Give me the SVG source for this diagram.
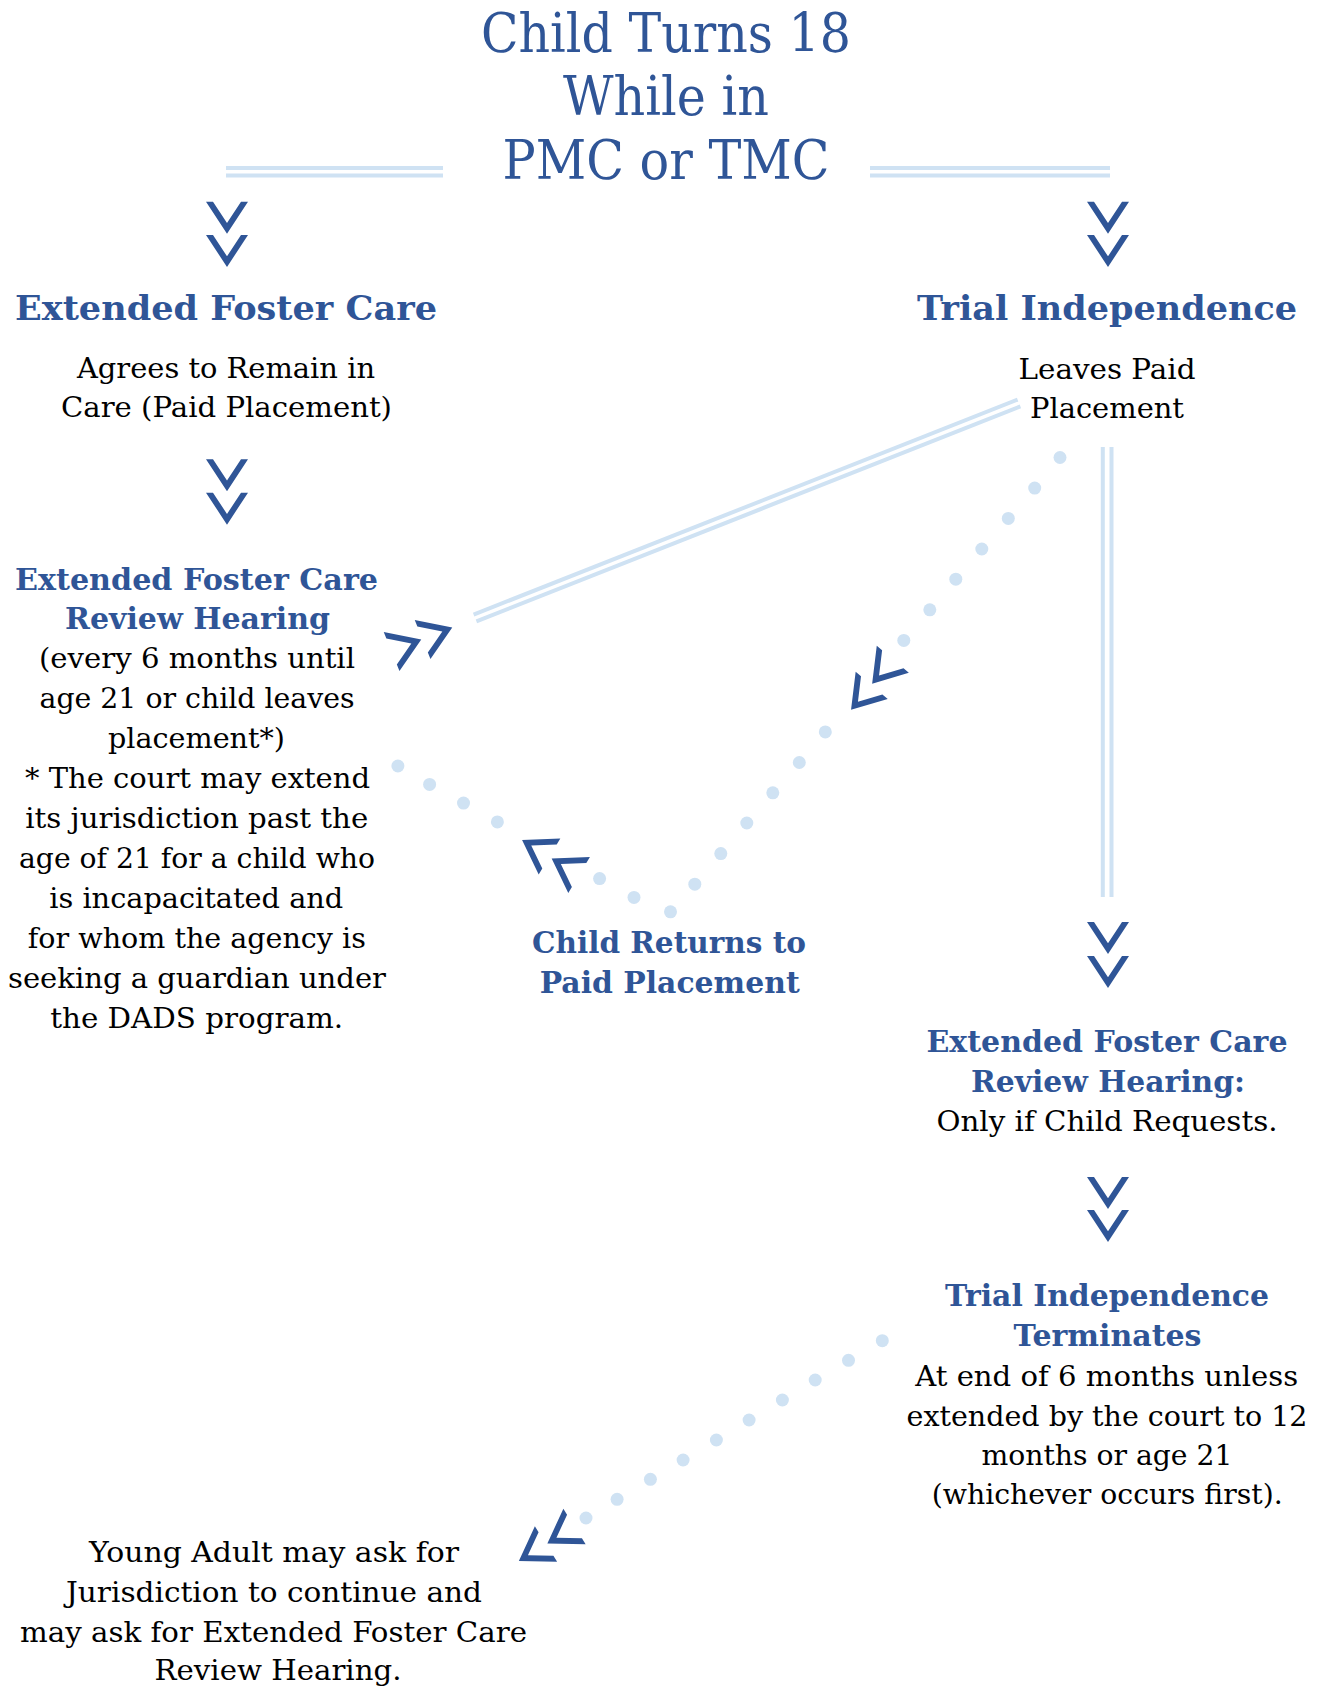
<svg xmlns="http://www.w3.org/2000/svg" xmlns:xlink="http://www.w3.org/1999/xlink" width="1322" height="1688" viewBox="0 0 1322 1688">
<style>
  text { font-family: "DejaVu Serif", "Liberation Serif", serif; text-anchor: middle; }
  .title { fill: #2F5597; font-size: 55px; }
  .h1 { fill: #2F5597; font-size: 34px; font-weight: bold; }
  .h2 { fill: #2F5597; font-size: 30px; font-weight: bold; }
  .b { fill: #000000; font-size: 28px; }
  .rail { stroke: #CFE2F3; stroke-width: 4; fill: none; }
  .dot { fill: #CFE2F3; }
  .chev { fill: #2F5597; }
</style>
<defs>
  <polygon id="chev" points="-21,0 0,32 21,0 14,0 0,21.3 -14,0"/>
</defs>
<rect x="0" y="0" width="1322" height="1688" fill="#FFFFFF"/>

<g id="connectors">
  <!-- horizontal double rails from title -->
  <line class="rail" x1="226" y1="168" x2="443" y2="168"/>
  <line class="rail" x1="226" y1="175.5" x2="443" y2="175.5"/>
  <line class="rail" x1="870" y1="168" x2="1110" y2="168"/>
  <line class="rail" x1="870" y1="175.5" x2="1110" y2="175.5"/>
  <!-- vertical double rail on the right -->
  <line class="rail" x1="1102.8" y1="447" x2="1102.8" y2="897"/>
  <line class="rail" x1="1111.5" y1="447" x2="1111.5" y2="897"/>
  <!-- diagonal double rail -->
  <line class="rail" x1="473.6" y1="614.6" x2="1017.6" y2="399.6"/>
  <line class="rail" x1="476.4" y1="621.4" x2="1020.4" y2="406.4"/>

  <!-- chevrons -->
  <use href="#chev" class="chev" transform="translate(227,201.7)"/>
  <use href="#chev" class="chev" transform="translate(227,235)"/>
  <use href="#chev" class="chev" transform="translate(1108,201.7)"/>
  <use href="#chev" class="chev" transform="translate(1108,235)"/>
  <use href="#chev" class="chev" transform="translate(227,459.3)"/>
  <use href="#chev" class="chev" transform="translate(227,492.7)"/>
  <use href="#chev" class="chev" transform="translate(1108,922)"/>
  <use href="#chev" class="chev" transform="translate(1108,956)"/>
  <use href="#chev" class="chev" transform="translate(1108,1177)"/>
  <use href="#chev" class="chev" transform="translate(1108,1210)"/>
  <use href="#chev" class="chev" transform="translate(391.6,651.5) rotate(-112)"/>
  <use href="#chev" class="chev" transform="translate(422.6,639.5) rotate(-112)"/>
  <use href="#chev" class="chev" transform="translate(871.7,685.4) rotate(40.2)"/>
  <use href="#chev" class="chev" transform="translate(892.8,659.2) rotate(40.2)"/>
  <use href="#chev" class="chev" transform="translate(549.5,856.4) rotate(121)"/>
  <use href="#chev" class="chev" transform="translate(579.1,875) rotate(121)"/>
  <use href="#chev" class="chev" transform="translate(546,1544) rotate(58)"/>
  <use href="#chev" class="chev" transform="translate(574.5,1526.5) rotate(58)"/>

  <!-- dotted line: Trial Independence to Child Returns -->
  <circle class="dot" cx="1060" cy="457.5" r="6.5"/>
  <circle class="dot" cx="1034.7" cy="488.1" r="6.5"/>
  <circle class="dot" cx="1008.3" cy="518.4" r="6.5"/>
  <circle class="dot" cx="981.8" cy="549" r="6.5"/>
  <circle class="dot" cx="955.8" cy="579.2" r="6.5"/>
  <circle class="dot" cx="929.8" cy="609.8" r="6.5"/>
  <circle class="dot" cx="903.8" cy="640.4" r="6.5"/>
  <circle class="dot" cx="825.3" cy="731.9" r="6.5"/>
  <circle class="dot" cx="799.3" cy="762.5" r="6.5"/>
  <circle class="dot" cx="772.8" cy="792.8" r="6.5"/>
  <circle class="dot" cx="746.8" cy="823" r="6.5"/>
  <circle class="dot" cx="720.8" cy="853.6" r="6.5"/>
  <circle class="dot" cx="694.8" cy="884.2" r="6.5"/>
  <circle class="dot" cx="670.5" cy="911.8" r="6.5"/>
  <!-- dotted line: Review Hearing to Child Returns -->
  <circle class="dot" cx="397.9" cy="766" r="6.5"/>
  <circle class="dot" cx="429.6" cy="784.4" r="6.5"/>
  <circle class="dot" cx="463.5" cy="803.1" r="6.5"/>
  <circle class="dot" cx="497.4" cy="821.9" r="6.5"/>
  <circle class="dot" cx="599.6" cy="878.6" r="6.5"/>
  <circle class="dot" cx="634" cy="897.4" r="6.5"/>
  <!-- dotted line: Trial Independence Terminates to Young Adult -->
  <circle class="dot" cx="882.3" cy="1340.7" r="6.5"/>
  <circle class="dot" cx="848.5" cy="1360.3" r="6.5"/>
  <circle class="dot" cx="815.2" cy="1380" r="6.5"/>
  <circle class="dot" cx="782.4" cy="1400" r="6.5"/>
  <circle class="dot" cx="749.1" cy="1420" r="6.5"/>
  <circle class="dot" cx="716.4" cy="1440" r="6.5"/>
  <circle class="dot" cx="683.1" cy="1460" r="6.5"/>
  <circle class="dot" cx="650.4" cy="1479.3" r="6.5"/>
  <circle class="dot" cx="617.1" cy="1499.3" r="6.5"/>
  <circle class="dot" cx="586" cy="1518" r="6.5"/>
</g>

<g id="title">
  <text class="title" x="666" y="52" textLength="370" lengthAdjust="spacingAndGlyphs">Child Turns 18</text>
  <text class="title" x="666" y="115" textLength="206" lengthAdjust="spacingAndGlyphs">While in</text>
  <text class="title" x="666" y="179" textLength="327" lengthAdjust="spacingAndGlyphs">PMC or TMC</text>
</g>

<g id="extended-foster-care">
  <text class="h1" x="226" y="320" textLength="422" lengthAdjust="spacingAndGlyphs">Extended Foster Care</text>
  <text class="b" x="226" y="378" textLength="298" lengthAdjust="spacingAndGlyphs">Agrees to Remain in</text>
  <text class="b" x="226.5" y="417" textLength="331" lengthAdjust="spacingAndGlyphs">Care (Paid Placement)</text>
</g>

<g id="trial-independence">
  <text class="h1" x="1107" y="320" textLength="380" lengthAdjust="spacingAndGlyphs">Trial Independence</text>
  <text class="b" x="1107" y="379" textLength="177" lengthAdjust="spacingAndGlyphs">Leaves Paid</text>
  <text class="b" x="1107" y="418" textLength="154" lengthAdjust="spacingAndGlyphs">Placement</text>
</g>

<g id="efc-review-hearing">
  <text class="h2" x="196.5" y="590" textLength="363" lengthAdjust="spacingAndGlyphs">Extended Foster Care</text>
  <text class="h2" x="197.5" y="629" textLength="265" lengthAdjust="spacingAndGlyphs">Review Hearing</text>
  <text class="b" x="197" y="668" textLength="316" lengthAdjust="spacingAndGlyphs">(every 6 months until</text>
  <text class="b" x="197" y="708" textLength="315" lengthAdjust="spacingAndGlyphs">age 21 or child leaves</text>
  <text class="b" x="196.5" y="748" textLength="177" lengthAdjust="spacingAndGlyphs">placement*)</text>
  <text class="b" x="197.5" y="788" textLength="345" lengthAdjust="spacingAndGlyphs">* The court may extend</text>
  <text class="b" x="196.7" y="828" textLength="343" lengthAdjust="spacingAndGlyphs">its jurisdiction past the</text>
  <text class="b" x="197" y="868" textLength="356" lengthAdjust="spacingAndGlyphs">age of 21 for a child who</text>
  <text class="b" x="196.3" y="908" textLength="294" lengthAdjust="spacingAndGlyphs">is incapacitated and</text>
  <text class="b" x="196.8" y="948" textLength="338" lengthAdjust="spacingAndGlyphs">for whom the agency is</text>
  <text class="b" x="197" y="988" textLength="378" lengthAdjust="spacingAndGlyphs">seeking a guardian under</text>
  <text class="b" x="196.7" y="1028" textLength="293" lengthAdjust="spacingAndGlyphs">the DADS program.</text>
</g>

<g id="child-returns">
  <text class="h2" x="669" y="953" textLength="274" lengthAdjust="spacingAndGlyphs">Child Returns to</text>
  <text class="h2" x="669.7" y="993" textLength="260" lengthAdjust="spacingAndGlyphs">Paid Placement</text>
</g>

<g id="efc-review-on-request">
  <text class="h2" x="1107" y="1052" textLength="361" lengthAdjust="spacingAndGlyphs">Extended Foster Care</text>
  <text class="h2" x="1108" y="1092" textLength="274" lengthAdjust="spacingAndGlyphs">Review Hearing:</text>
  <text class="b" x="1107" y="1131" textLength="341" lengthAdjust="spacingAndGlyphs">Only if Child Requests.</text>
</g>

<g id="trial-independence-terminates">
  <text class="h2" x="1107" y="1306" textLength="324" lengthAdjust="spacingAndGlyphs">Trial Independence</text>
  <text class="h2" x="1107.5" y="1346" textLength="188" lengthAdjust="spacingAndGlyphs">Terminates</text>
  <text class="b" x="1106.7" y="1386" textLength="383" lengthAdjust="spacingAndGlyphs">At end of 6 months unless</text>
  <text class="b" x="1107" y="1426" textLength="401" lengthAdjust="spacingAndGlyphs">extended by the court to 12</text>
  <text class="b" x="1107" y="1465" textLength="251" lengthAdjust="spacingAndGlyphs">months or age 21</text>
  <text class="b" x="1107.2" y="1504" textLength="351" lengthAdjust="spacingAndGlyphs">(whichever occurs first).</text>
</g>

<g id="young-adult">
  <text class="b" x="274" y="1562" textLength="370" lengthAdjust="spacingAndGlyphs">Young Adult may ask for</text>
  <text class="b" x="274" y="1602" textLength="416" lengthAdjust="spacingAndGlyphs">Jurisdiction to continue and</text>
  <text class="b" x="273.5" y="1642" textLength="507" lengthAdjust="spacingAndGlyphs">may ask for Extended Foster Care</text>
  <text class="b" x="278" y="1680" textLength="247" lengthAdjust="spacingAndGlyphs">Review Hearing.</text>
</g>
</svg>
